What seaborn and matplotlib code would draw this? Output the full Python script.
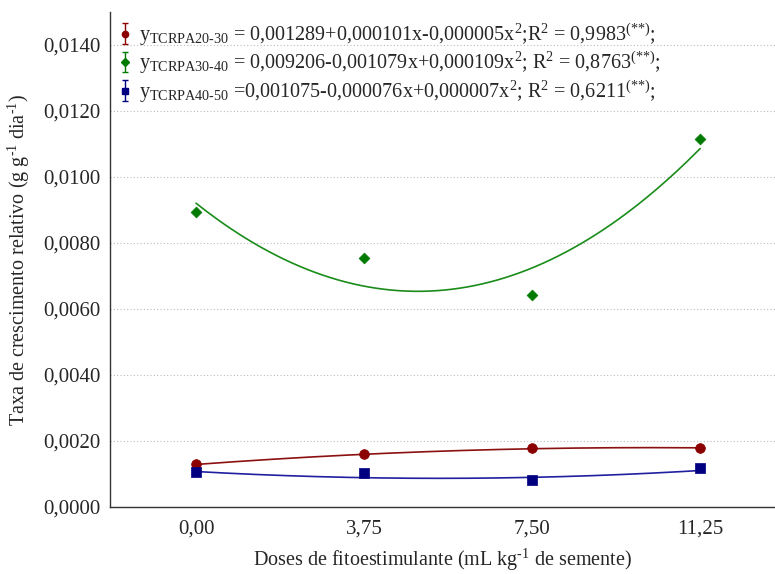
import numpy as np
import pandas as pd
import matplotlib
matplotlib.use("Agg")
import matplotlib.pyplot as plt
import seaborn as sns

# ---- data ----
doses = [0.0, 3.75, 7.50, 11.25]
dose_labels = ["0,00", "3,75", "7,50", "11,25"]
tcrpa_20_30 = [0.00130, 0.00160, 0.00179, 0.00179]
tcrpa_30_40 = [0.00894, 0.00755, 0.00642, 0.01115]
tcrpa_40_50 = [0.00106, 0.00103, 0.00082, 0.00118]
# fitted coefficients (c0, c1, c2)
coef_20_30 = [0.001289, 0.000101, -0.000005]
coef_30_40 = [0.009206, -0.001079, 0.000109]
coef_40_50 = [0.001075, -0.000076, 0.000007]
y_ticks = [0.0, 0.002, 0.004, 0.006, 0.008, 0.010, 0.012, 0.014]
y_tick_labels = ["0,0000", "0,0020", "0,0040", "0,0060", "0,0080", "0,0100", "0,0120", "0,0140"]
H = "\u2010"
legend_labels = [
    r"y$_{\mathregular{TCRPA20" + H + r"30}}$ = 0,001289+0,000101x-0,000005x$^{\mathregular{2}}$;R$^{\mathregular{2}}$ = 0,9983$^{\mathregular{(}{*}{*}\mathregular{)}}$;",
    r"y$_{\mathregular{TCRPA30" + H + r"40}}$ = 0,009206-0,001079x+0,000109x$^{\mathregular{2}}$; R$^{\mathregular{2}}$ = 0,8763$^{\mathregular{(}{*}{*}\mathregular{)}}$;",
    r"y$_{\mathregular{TCRPA40" + H + r"50}}$ =0,001075-0,000076x+0,000007x$^{\mathregular{2}}$; R$^{\mathregular{2}}$ = 0,6211$^{\mathregular{(}{*}{*}\mathregular{)}}$;",
]
x_label = r"Doses de fitoestimulante (mL kg$^{\mathregular{" + H + r"1}}$ de semente)"
y_label = r"Taxa de crescimento relativo (g g$^{\mathregular{" + H + r"1}}$ dia$^{\mathregular{" + H + r"1}}$)"

sns.set_style("white")
plt.rcParams["font.family"] = ["Liberation Serif", "DejaVu Serif"]
plt.rcParams["mathtext.fontset"] = "custom"
plt.rcParams["mathtext.rm"] = "Liberation Serif"
plt.rcParams["mathtext.it"] = "Liberation Serif:italic"
plt.rcParams["mathtext.default"] = "regular"

fig = plt.figure(figsize=(7.75, 5.74), dpi=100)
ax = fig.add_axes([110 / 775, 1 - 507 / 574, 1 - 110 / 775, (507 - 12) / 574])

series = [
    (tcrpa_20_30, coef_20_30, "#8B0000", "#8B1010", "o", 7),
    (tcrpa_30_40, coef_30_40, "#007A00", "#1A8C1A", "D", 5.5),
    (tcrpa_40_50, coef_40_50, "#000080", "#2020A0", "s", 7),
]

xs = np.linspace(doses[0], doses[-1], 200)
handles = []
for (vals, coef, mcol, lcol, mk, ms), lab in zip(series, legend_labels):
    fit = coef[0] + coef[1] * xs + coef[2] * xs ** 2
    sns.lineplot(x=xs, y=fit, ax=ax, color=lcol, lw=1.2, zorder=2)
    df = pd.DataFrame({"x": doses, "y": vals})
    sns.scatterplot(data=df, x="x", y="y", ax=ax, marker=mk, s=ms ** 2,
                    color=mcol, edgecolor=mcol, linewidth=0.5, zorder=3)
    h = ax.errorbar([np.nan], [np.nan], yerr=[np.nan], fmt=mk, color=mcol, ms=4.5,
                    capsize=2.5, elinewidth=1.0, capthick=1.0)
    handles.append(h)

ax.set_xlim(-1.92, 12.92)
ax.set_ylim(0, 0.0150)
ax.set_xticks(doses)
ax.set_xticklabels(dose_labels)
ax.set_yticks(y_ticks)
ax.set_yticklabels(y_tick_labels)
ax.tick_params(axis="both", labelsize=15, length=3, color="#555555", direction="out")
ax.tick_params(axis="x", pad=6)
ax.tick_params(axis="y", pad=4)
ax.grid(axis="y", ls=(0, (1, 2)), color="#bbbbbb", lw=0.8)
ax.set_axisbelow(True)
for s in ["top", "right"]:
    ax.spines[s].set_visible(False)
for s in ["left", "bottom"]:
    ax.spines[s].set_color("#333333")
    ax.spines[s].set_linewidth(1.0)

ax.set_xlabel(x_label, fontsize=14.5, labelpad=6)
ax.set_ylabel(y_label, fontsize=14.5, labelpad=8)

leg = ax.legend(handles, legend_labels, loc="upper left", bbox_to_anchor=(0.0, 1.0),
                frameon=False, fontsize=14.5, handlelength=0.6, handletextpad=0.4,
                labelspacing=0.1, borderaxespad=0.25, borderpad=0.2)

fig.savefig("out.png", dpi=100)
